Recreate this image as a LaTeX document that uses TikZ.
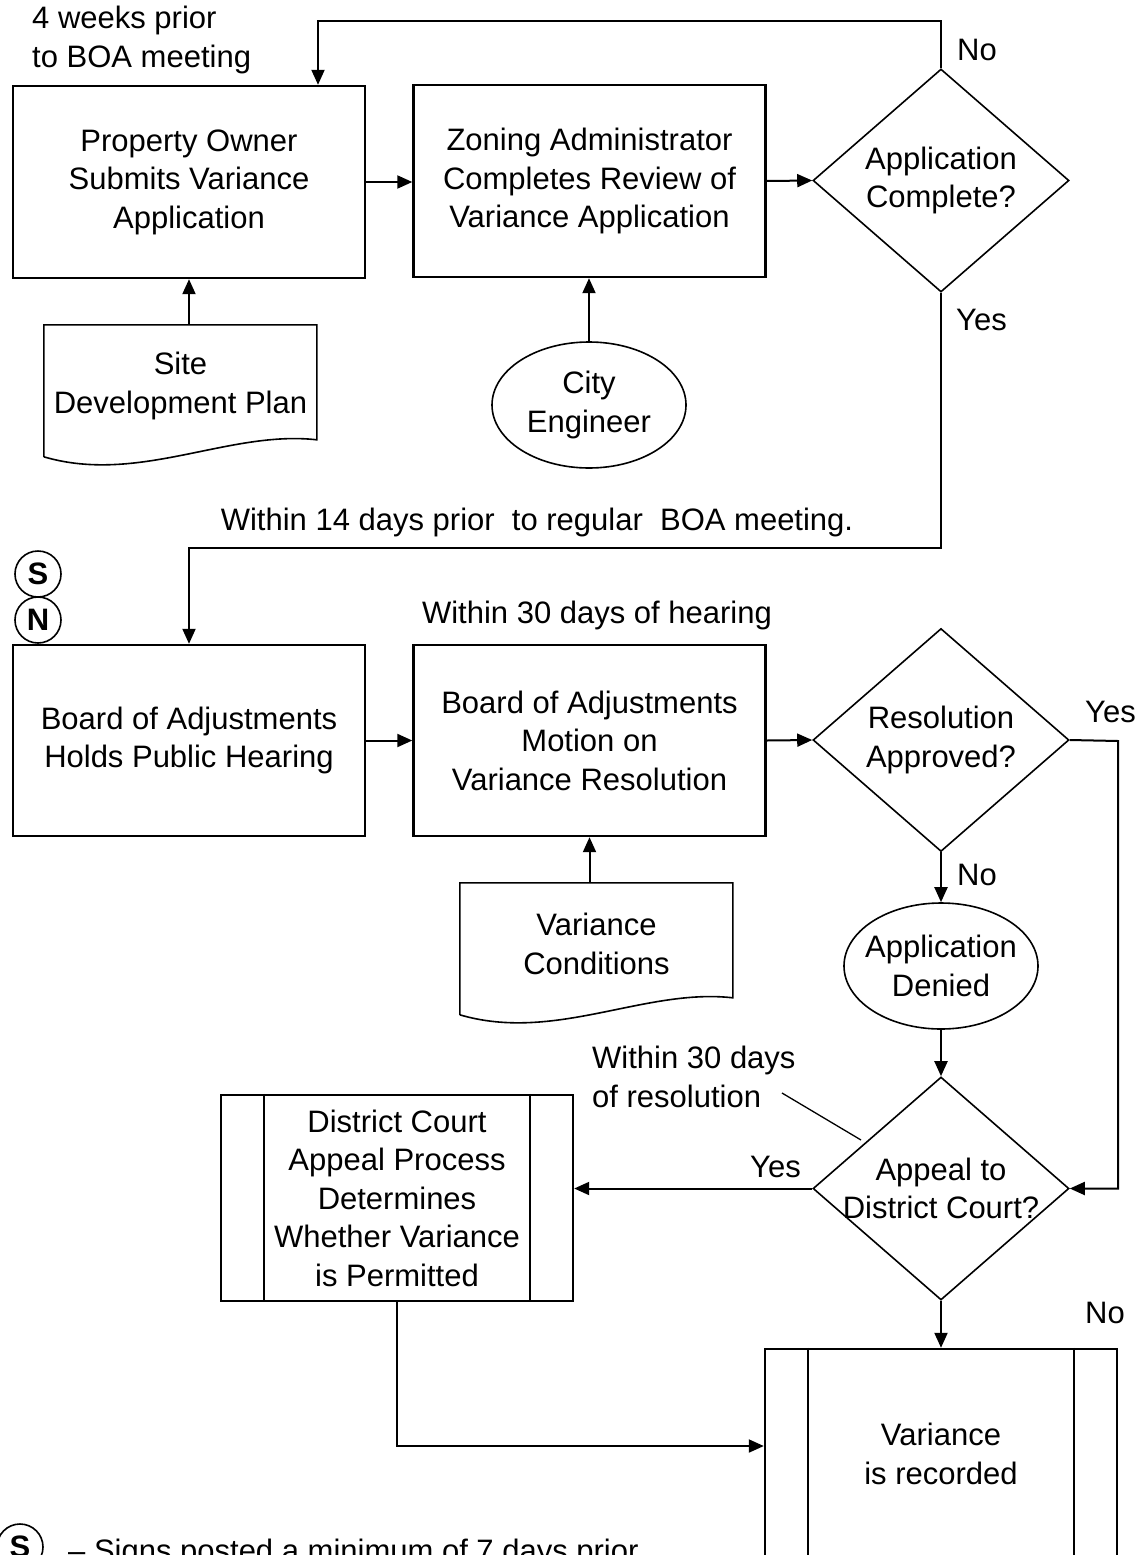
\documentclass[tikz,border=0pt]{standalone}
\usepackage{fontspec}
\setmainfont{Liberation Sans}
\usetikzlibrary{shapes.geometric,arrows.meta,calc}

\begin{document}
\begin{tikzpicture}[x=1pt,y=-1pt,
  font=\fontsize{31}{38.5}\selectfont,
  >={Triangle[length=15pt,width=13pt]},
  flow/.style={line width=2pt},
  process/.style={draw, line width=2.4pt, minimum width=352, minimum height=192, align=center, inner sep=0pt},
  decision/.style={diamond, draw, line width=1.6pt, aspect=1.15, inner xsep=-40pt, inner ysep=-33pt, minimum width=256, minimum height=223, align=center},
  terminal/.style={ellipse, draw, line width=1.6pt, inner xsep=-12pt, inner ysep=0pt, minimum width=194, minimum height=126, align=center},
  docnode/.style={minimum width=273, minimum height=122, align=center, inner sep=0pt},
  docline/.style={line width=1.6pt},
  lbl/.style={inner sep=0pt, anchor=base west},
  marker/.style={circle, draw, line width=1.6pt, minimum size=46, inner sep=0pt, font=\fontsize{31}{38.5}\selectfont\bfseries}
]
\useasboundingbox (0,0) rectangle (1144,1555);

%boxes
\node[process] (po) at (189,182) {Property Owner\\Submits Variance\\Application};
\node[process] (za) at (589.5,181) {Zoning Administrator\\Completes Review of\\Variance Application};
\node[decision] (ac) at (941,180.5) {Application\\Complete?};
\node[docnode] (sdp) at (180.5,386) {Site\\Development Plan};
\node[terminal] (ce) at (589,405) {City\\Engineer};
%
\node[process, minimum height=191] (ba) at (189,740.5) {Board of Adjustments\\Holds Public Hearing};
\node[process, minimum height=191] (bm) at (589.5,740.5) {Board of Adjustments\\Motion on\\Variance Resolution};
\node[decision] (ra) at (941,740) {Resolution\\Approved?};
\node[docnode] (vc) at (596.5,944) {Variance\\Conditions};
\node[terminal] (den) at (941,966) {Application\\Denied};
%
\node[decision] (adc) at (941,1188.5) {Appeal to\\District Court?};
\node[process, minimum height=206] (dc) at (397,1198) {District Court\\Appeal Process\\Determines\\Whether Variance\\is Permitted};
\node[process, minimum height=210] (vr) at (941,1454) {Variance\\is recorded};

%document outlines
\draw[docline, shift={(sdp.north west)}] (0,132) -- (0,0) -- (273,0) -- (273,115) .. controls (185,105) and (95,160) .. (0,132);
\draw[docline, shift={(vc.north west)}] (0,132) -- (0,0) -- (273,0) -- (273,115) .. controls (185,105) and (95,160) .. (0,132);

%side bars
\draw[docline] ([xshift=44]dc.north west) -- ([xshift=44]dc.south west);
\draw[docline] ([xshift=-44]dc.north east) -- ([xshift=-44]dc.south east);
\draw[docline] ([xshift=44]vr.north west) -- ([xshift=44]vr.south west);
\draw[docline] ([xshift=-44]vr.north east) -- ([xshift=-44]vr.south east);

%flow lines
\coordinate (nobend) at (318,21);
\coordinate (yesbend) at (189,548);
\coordinate (yesright) at (1118,741);
\draw[flow,->] (ac.north) |- (nobend) -- (nobend |- po.north);
\draw[flow,->] (po.east) -- (po.east -| za.west);
\draw[flow,->] (za.east) -- (ac.west);
\draw[flow,->] (po.south |- sdp.north) -- (po.south);
\draw[flow,->] (ce.north) -- (ce.north |- za.south);
\draw[flow,->] (ac.south) |- (yesbend) -- (ba.north);
\draw[flow,->] (ba.east) -- (bm.west);
\draw[flow,->] (bm.east) -- (ra.west);
\draw[flow,->] (bm.south |- vc.north) -- (bm.south);
\draw[flow,->] (ra.east) -- (yesright) |- (adc.east);
\draw[flow,->] (ra.south) -- (den.north);
\draw[flow,->] (den.south) -- (adc.north);
\draw[flow,->] (adc.west) -- (adc.west -| dc.east);
\draw[flow,->] (adc.south) -- (vr.north);
\draw[flow,->] (dc.south) |- ($(vr.west)+(0,-8)$);

%note line
\coordinate (noteA) at (782,1093);
\coordinate (noteB) at (861,1140);
\draw[line width=1.3pt] (noteA) -- (noteB);

%labels
\node[inner sep=0pt, anchor=north west, align=left] (wk) at (32,6) {4 weeks prior\\to BOA meeting};
\node[lbl] (no1) at (957,60) {No};
\node[lbl] (yes1) at (956,330) {Yes};
\node[lbl, anchor=base] (d14) at (537,530) {Within 14 days prior\ \ to regular\ \ BOA meeting.};
\node[lbl, anchor=base] (d30) at (597,623) {Within 30 days of hearing};
\node[lbl] (yes2) at (1085,722) {Yes};
\node[lbl] (no2) at (957,885) {No};
\node[inner sep=0pt, anchor=north west, align=left] (note) at (592,1046) {Within 30 days\\of resolution};
\node[lbl] (yes3) at (750,1177) {Yes};
\node[lbl] (no3) at (1085,1323) {No};
%
\node[marker] (s) at (38,574) {S};
\node[marker] (n) at (38,620) {N};
\node[marker] (sleg) at (20,1547) {S};
\node[lbl] (leg) at (68,1561) {-- Signs posted a minimum of 7 days prior};

\end{tikzpicture}
\end{document}
